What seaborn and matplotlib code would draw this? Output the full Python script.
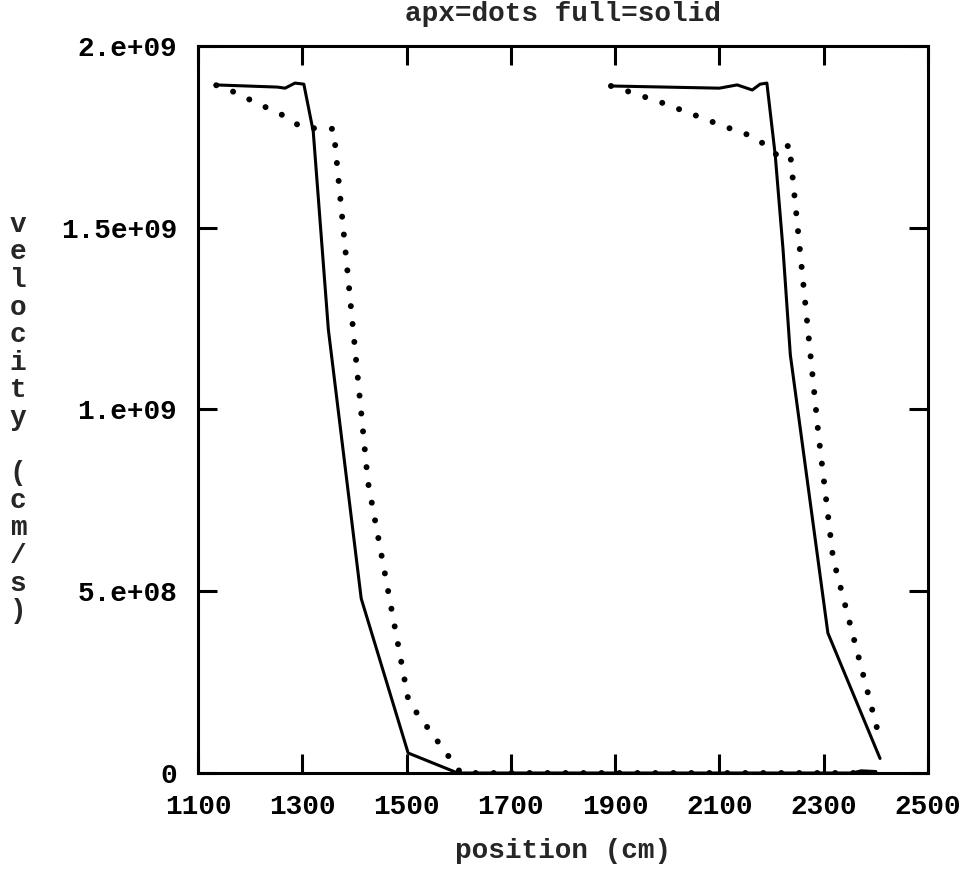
import matplotlib
matplotlib.use("Agg")
import matplotlib.pyplot as plt
import seaborn as sns
import pandas as pd

# ---- data (position in cm, velocity in 1e9 cm/s) ----
full1_x = [1133, 1252, 1267, 1286, 1303, 1321, 1350, 1413, 1503, 1598, 2355, 2372, 2400]
full1_v = [1.893, 1.887, 1.884, 1.898, 1.895, 1.765, 1.22, 0.48, 0.055, 0.0, 0.0, 0.006, 0.004]

apx1_x = [1135, 1165, 1210, 1265, 1300, 1360, 1426, 1504, 1604, 2390]
apx1_v = [1.892, 1.876, 1.845, 1.808, 1.775, 1.772, 0.80, 0.196, 0.0, 0.0]

full2_x = [1892, 2100, 2134, 2163, 2178, 2191, 2207, 2222, 2236, 2308, 2408]
full2_v = [1.890, 1.884, 1.893, 1.879, 1.895, 1.898, 1.70, 1.44, 1.15, 0.385, 0.04]

apx2_x = [1892, 1923, 1986, 2047, 2107, 2166, 2193, 2214, 2234, 2290, 2318, 2410]
apx2_v = [1.890, 1.876, 1.846, 1.813, 1.780, 1.750, 1.722, 1.695, 1.730, 0.93, 0.59, 0.08]

x_ticks = [1100, 1300, 1500, 1700, 1900, 2100, 2300, 2500]
y_ticks = [0, 5e8, 1e9, 1.5e9, 2e9]
y_tick_labels = ["0", "5.e+08", "1.e+09", "1.5e+09", "2.e+09"]
title = "apx=dots full=solid"
xlabel = "position (cm)"
ylabel = "velocity (cm/s)"

sns.set_style("ticks")
plt.rcParams["font.family"] = ["Liberation Mono", "DejaVu Sans Mono"]
plt.rcParams["font.weight"] = "bold"

fig = plt.figure(figsize=(9.68, 8.69), dpi=100)
ax = fig.add_axes([198 / 968, 1 - 773 / 869, (928 - 198) / 968, (773 - 46) / 869])

def frame(xs, vs):
    return pd.DataFrame({"position": xs, "velocity": [v * 1e9 for v in vs]})

solid_kw = dict(color="black", linewidth=2.2, solid_joinstyle="round")
dot_kw = dict(color="black", linewidth=4.3, linestyle=(0, (0.01, 3.0)),
              dash_capstyle="round")

for xs, vs in [(apx1_x, apx1_v), (apx2_x, apx2_v)]:
    sns.lineplot(data=frame(xs, vs), x="position", y="velocity", ax=ax,
                 sort=False, estimator=None, **dot_kw)
for xs, vs in [(full1_x, full1_v), (full2_x, full2_v)]:
    sns.lineplot(data=frame(xs, vs), x="position", y="velocity", ax=ax,
                 sort=False, estimator=None, **solid_kw)

ax.set_xlim(1100, 2500)
ax.set_ylim(0, 2e9)
ax.set_xticks(x_ticks)
ax.set_xticklabels([str(t) for t in x_ticks])
ax.set_yticks(y_ticks)
ax.set_yticklabels(y_tick_labels)

for s in ax.spines.values():
    s.set_visible(True)
    s.set_linewidth(2.2)
    s.set_color("black")

ax.tick_params(axis="both", which="major", direction="in", length=13.5, width=2.2,
               top=True, right=True, labelsize=20, colors="black")
ax.tick_params(axis="x", pad=15)
ax.tick_params(axis="y", pad=15)
for lab in ax.get_xticklabels() + ax.get_yticklabels():
    lab.set_fontweight("bold")

ax.set_title(title, fontsize=20, fontweight="bold", pad=18)
ax.set_xlabel(xlabel, fontsize=20, fontweight="bold", labelpad=13)
ax.set_ylabel("")
fig.text(18 / 968, 1 - 418 / 869, "\n".join(list(ylabel)),
         ha="center", va="center", fontsize=20, fontweight="bold", linespacing=1.08)

fig.savefig("out.png", dpi=100, facecolor="white")
